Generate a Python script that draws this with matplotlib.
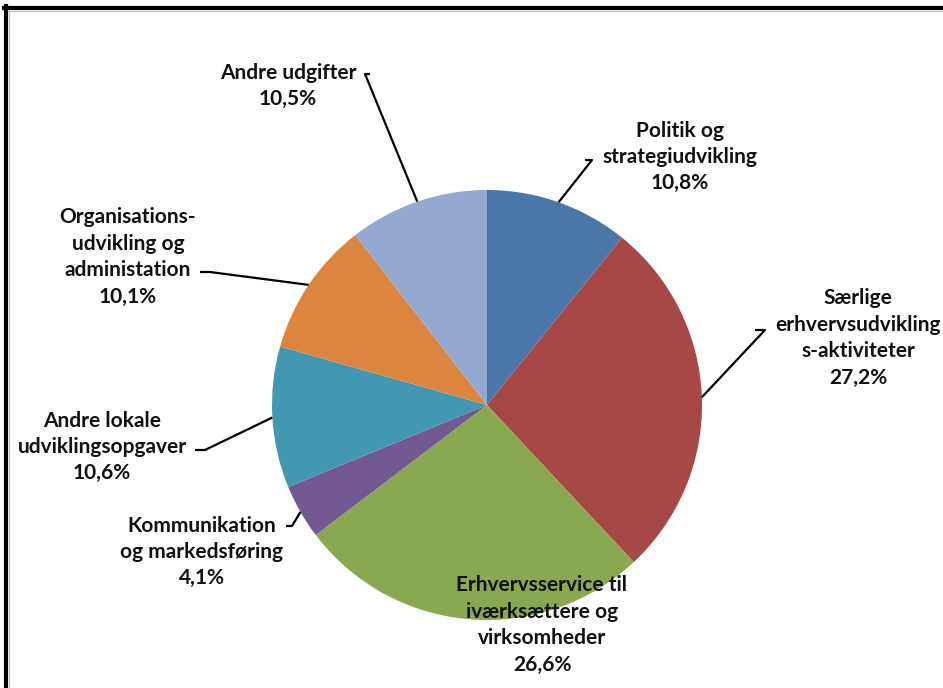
import numpy as np
import matplotlib.pyplot as plt
from matplotlib.lines import Line2D

# budget shares, clockwise from 12 o'clock
labels = ["Politik og\nstrategiudvikling",
          "Særlige\nerhvervsudvikling\ns-aktiviteter",
          "Erhvervsservice til\niværksættere og\nvirksomheder",
          "Kommunikation\nog markedsføring",
          "Andre lokale\nudviklingsopgaver",
          "Organisations-\nudvikling og\nadministation",
          "Andre udgifter"]
shares = [10.8, 27.2, 26.6, 4.1, 10.6, 10.1, 10.5]
pct_text = ["10,8%", "27,2%", "26,6%", "4,1%", "10,6%", "10,1%", "10,5%"]
colors = ["#4A76A8", "#A84846", "#8AA850", "#735991",
          "#4298B0", "#DC853E", "#94A9D0"]

W, H = 943, 688
fig = plt.figure(figsize=(W / 100, H / 100), dpi=100)
ax = fig.add_axes([0, 0, 1, 1])

cx, cy, r = 487, H - 405, 215
wedges, _ = ax.pie(shares, colors=colors, startangle=90, counterclock=False,
                   center=(cx, cy), radius=r, wedgeprops=dict(linewidth=0))
ax.set_xlim(0, W)
ax.set_ylim(0, H)
ax.set_aspect("equal")
ax.axis("off")

# label block centre (px from top-left), leader end point (None = no leader)
label_pos = [(680, 157), (858, 338), (542, 625), (202, 552),
             (102, 447), (128, 257), (288, 86)]
leader_end = [(592, 160), (765, 330), None, (292, 526),
              (205, 450), (210, 272), (365, 74)]
hook = [-7, -10, 0, -6, -10, -10, 5]

font = dict(family=["Lato", "DejaVu Sans"], fontsize=15, fontweight="bold",
            color="#111111", ha="center", va="center", linespacing=1.4)

for i, w in enumerate(wedges):
    mid = np.deg2rad((w.theta1 + w.theta2) / 2)
    tx, ty = label_pos[i]
    ax.text(tx, H - ty, labels[i] + "\n" + pct_text[i], **font)
    if leader_end[i] is not None:
        ex, ey = leader_end[i]
        sx = cx + r * np.cos(mid)
        sy = cy + r * np.sin(mid)
        ax.plot([sx, ex, ex + hook[i]], [sy, H - ey, H - ey],
                color="black", lw=1.6, solid_capstyle="butt")

# frame around the chart area (top and left only)
fig.add_artist(Line2D([5.5 / W, 5.5 / W], [0, 1 - 6 / H],
                      transform=fig.transFigure, color="black", lw=3))
fig.add_artist(Line2D([4 / W, 1], [1 - 8 / H, 1 - 8 / H],
                      transform=fig.transFigure, color="black", lw=3))
fig.add_artist(Line2D([8.5 / W, 8.5 / W], [0, 1 - 10 / H],
                      transform=fig.transFigure, color="#c0c0c0", lw=0.8))
fig.add_artist(Line2D([8 / W, 1], [1 - 10.5 / H, 1 - 10.5 / H],
                      transform=fig.transFigure, color="#c0c0c0", lw=0.8))

fig.savefig("out.png", dpi=100)
